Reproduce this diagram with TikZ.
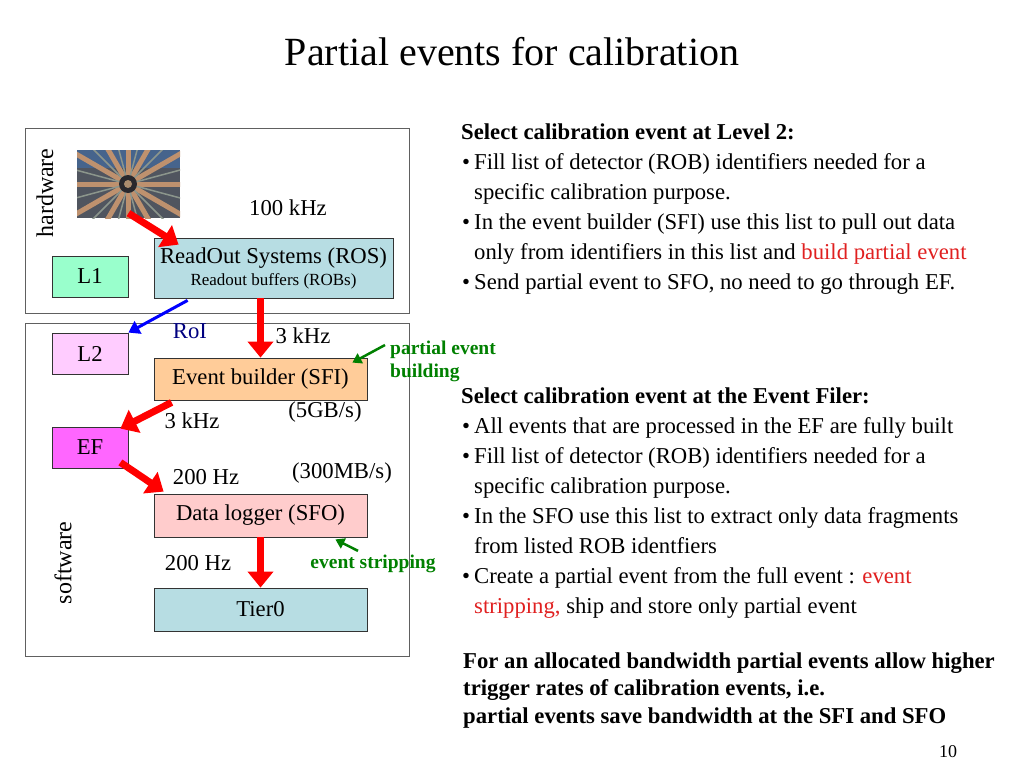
\documentclass[tikz,border=0pt]{standalone}
\usepackage{fontspec}
\setmainfont{Liberation Serif}
\usetikzlibrary{arrows.meta,calc}
\definecolor{rosblue}{HTML}{B7DDE3}
\definecolor{lonegreen}{HTML}{99FFCC}
\definecolor{ltwopink}{HTML}{FFCCFF}
\definecolor{sfiorange}{HTML}{FFCC99}
\definecolor{efmag}{HTML}{FF66FF}
\definecolor{sfopink}{HTML}{FFCCCC}
\definecolor{framegray}{HTML}{606060}
\definecolor{dgreen}{HTML}{008000}
\definecolor{roiblue}{HTML}{000080}
\definecolor{txtred}{HTML}{E02020}
\definecolor{imgbg}{RGB}{80,85,95}
\definecolor{imgtop}{RGB}{70,100,140}
\definecolor{imgtan}{RGB}{190,145,110}
\definecolor{imggrey}{RGB}{140,150,140}
\definecolor{imgdark}{RGB}{40,40,45}
\definecolor{imgcore}{RGB}{170,140,110}
\tikzset{
  frame/.style={draw=framegray,line width=1pt,inner sep=0pt},
  blk/.style={draw=black!80,line width=0.8pt,inner sep=0pt,align=center,font=\fontsize{22.7}{24}\selectfont},
  lbl/.style={inner sep=0pt,font=\fontsize{22.7}{24}\selectfont},
  txt/.style={inner sep=0pt,anchor=base west,font=\fontsize{22.7}{26}\selectfont},
  btxt/.style={txt,font=\fontsize{22.7}{26}\selectfont\bfseries},
  redarrow/.style={draw=red,line width=7pt,-{Triangle[length=16pt,width=25pt]}},
  bluearrow/.style={draw=blue,line width=3pt,-{Triangle[length=11pt,width=14pt]}},
  greenarrow/.style={draw=dgreen,line width=2.5pt,-{Triangle[length=9pt,width=11pt]}},
}
\newcommand{\bul}{\makebox[12pt][l]{•}}
\begin{document}
\begin{tikzpicture}[x=1pt,y=-1pt]
\useasboundingbox (0,0) rectangle (1024,768);
% title
\node[inner sep=0pt,anchor=base,font=\fontsize{40}{44}\selectfont] (title) at (512,66) {Partial events for calibration};
% frames
\node[frame,minimum width=384pt,minimum height=185pt] (hw) at (217,220.5) {};
\node[frame,minimum width=384pt,minimum height=333pt] (sw) at (217,489.5) {};
\node[lbl,rotate=90,font=\fontsize{24}{26}\selectfont] (hwl) at (45,193) {hardware};
\node[lbl,rotate=90,font=\fontsize{24}{26}\selectfont] (swl) at (63,563) {software};
% detector picture placeholder
\node[inner sep=0pt,minimum width=103pt,minimum height=68pt,fill=imgbg] (img) at (128.5,184) {};
\begin{scope}
\clip (77,150) rectangle (180,218);
\fill[imgtop] (77,150) rectangle (180,168);
\foreach \a in {0,30,...,330}{
  \draw[imgtan,line width=5pt] (128,184) -- ++(\a:70pt);
}
\foreach \a in {15,45,...,345}{
  \draw[imggrey,line width=1.5pt] (128,184) -- ++(\a:70pt);
}
\fill[imgdark] (128,184) circle (9pt);
\fill[imgcore] (128,184) circle (4pt);
\end{scope}
% blocks
\node[blk,fill=lonegreen,minimum width=76pt,minimum height=41pt] (L1) at (90,276.5) {L1};
\node[blk,fill=rosblue,minimum width=239pt,minimum height=60pt] (ROS) at (273.5,268)
  {ReadOut Systems (ROS)\\[-2pt]{\fontsize{17}{19}\selectfont Readout buffers (ROBs)}};
\node[blk,fill=ltwopink,minimum width=76pt,minimum height=41pt] (L2) at (90,353.5) {L2};
\node[blk,fill=sfiorange,minimum width=213pt,minimum height=42pt] (SFI) at (260.5,379) {Event builder (SFI)};
\node[blk,fill=efmag,minimum width=76pt,minimum height=41pt] (EF) at (90,447.5) {EF};
\node[blk,fill=sfopink,minimum width=213pt,minimum height=43pt] (SFO) at (260.5,515.5) {Data logger (SFO)};
\node[blk,fill=rosblue,minimum width=213pt,minimum height=43pt] (T0) at (260.5,609.5) {Tier0};
% rate labels
\node[lbl] (r100) at (288,208) {100 kHz};
\node[lbl,text=roiblue] (roi) at (190,331) {RoI};
\node[lbl] (r3a) at (303,336) {3 kHz};
\node[lbl] (b5) at (325,412) {(5GB/s)};
\node[lbl] (r3b) at (192,421) {3 kHz};
\node[lbl] (r200a) at (206,477) {200 Hz};
\node[lbl] (b300) at (342,473) {(300MB/s)};
\node[lbl] (r200b) at (198,563) {200 Hz};
\node[inner sep=0pt,anchor=west,align=left,text=dgreen,font=\fontsize{19.5}{23}\selectfont\bfseries] (pe) at (390,361) {partial event\\building};
\node[inner sep=0pt,text=dgreen,font=\fontsize{19.5}{22}\selectfont\bfseries] (es) at (373,564) {event stripping};
% arrows
\draw[redarrow] ($(img.south)+(0,-5)$) -- ($(ROS.north west)+(25,7)$);
\draw[bluearrow] ($(ROS.south west)+(34,2)$) -- ($(L2.north east)+(0,0)$);
\draw[redarrow] (SFI.north |- ROS.south) -- (SFI.north);
\draw[redarrow] ($(SFI.south west)+(18,2)$) -- ($(EF.north east)+(-8,2)$);
\draw[redarrow] ($(EF.south east)+(-8,-6)$) -- ($(SFO.north west)+(10,-2)$);
\draw[redarrow] (SFO.south) -- (T0.north);
\draw[greenarrow] ($(pe.west)+(-5,-16)$) -- ($(SFI.north east)+(-15,5)$);
\draw[greenarrow] ($(es.north)+(-15,-4)$) -- ($(SFO.south east)+(-32,2)$);
% right text
\node[btxt] (a1) at (461,139) {Select calibration event at Level 2:};
\node[txt] (a2) at (462,169) {\bul Fill list of detector (ROB) identifiers needed for a};
\node[txt] (a3) at (474,199) {specific calibration purpose.};
\node[txt] (a4) at (462,229) {\bul In the event builder (SFI) use this list to pull out data};
\node[txt] (a5) at (474,259) {only from identifiers in this list and \textcolor{txtred}{build partial event}};
\node[txt] (a6) at (462,289) {\bul Send partial event to SFO, no need to go through EF.};
\node[btxt] (b1) at (461,403) {Select calibration event at the Event Filer:};
\node[txt] (b2) at (462,433) {\bul All events that are processed in the EF are fully built};
\node[txt] (b3) at (462,463) {\bul Fill list of detector (ROB) identifiers needed for a};
\node[txt] (b4) at (474,493) {specific calibration purpose.};
\node[txt] (b5) at (462,523) {\bul In the SFO use this list to extract only data fragments};
\node[txt] (b6) at (474,553) {from listed ROB identfiers};
\node[txt] (b7) at (462,583) {\bul Create a partial event from the full event : \textcolor{txtred}{event}};
\node[txt] (b8) at (474,613) {\textcolor{txtred}{stripping,} ship and store only partial event};
\node[btxt] (c1) at (463,668) {For an allocated bandwidth partial events allow higher};
\node[btxt] (c2) at (463,695) {trigger rates of calibration events, i.e.};
\node[btxt] (c3) at (463,723) {partial events save bandwidth at the SFI and SFO};
\node[inner sep=0pt,font=\fontsize{18}{20}\selectfont] (pg) at (948,752) {10};
\end{tikzpicture}
\end{document}
